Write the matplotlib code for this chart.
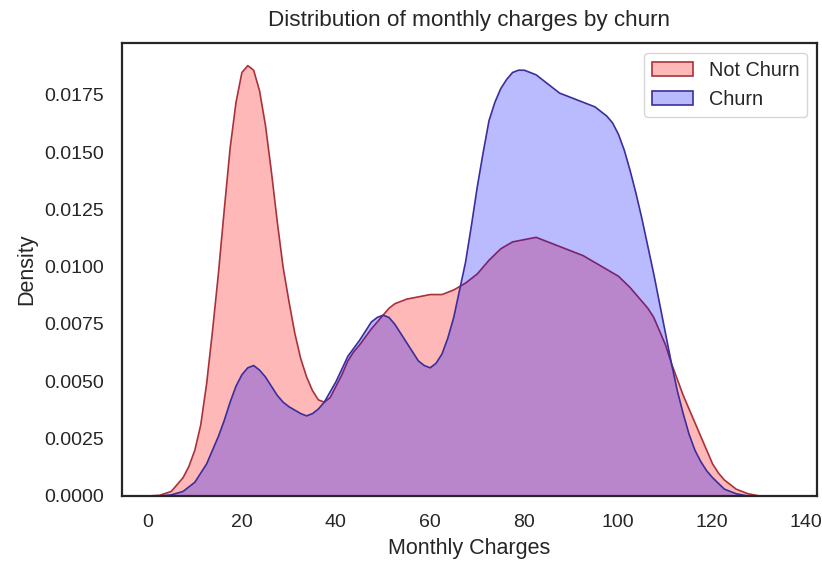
import matplotlib
matplotlib.use("Agg")
import matplotlib.pyplot as plt

# values
charges_not_churn = [0, 2.5, 5, 7.5, 8.75, 10, 11.25, 12.5, 13.75, 15, 16.25, 17.5, 18.75,
                     20, 21.25, 22.5, 23.75, 25, 26.25, 27.5, 28.75, 30, 31.25, 32.5, 33.75,
                     35, 36.25, 37.5, 38.75, 40, 41.25, 42.5, 43.75, 45, 47.5, 50, 51.25,
                     52.5, 55, 57.5, 60, 62.5, 65, 67.5, 70, 72.5, 75, 77.5, 80, 82.5, 85,
                     87.5, 90, 92.5, 95, 97.5, 100, 102.5, 105, 106.25, 107.5, 108.75, 110,
                     111.25, 112.5, 113.75, 115, 116.25, 117.5, 118.75, 120, 121.25, 122.5,
                     123.75, 125, 127.5, 130]
density_not_churn = [0, 0.00003, 0.0002, 0.0008, 0.0013, 0.0020, 0.0031, 0.0049, 0.0072,
                     0.0097, 0.0125, 0.0152, 0.0172, 0.0185, 0.0188, 0.0186, 0.0177, 0.0162,
                     0.0142, 0.0120, 0.0100, 0.0085, 0.0071, 0.0060, 0.0052, 0.0046, 0.0042,
                     0.0041, 0.0043, 0.0048, 0.0053, 0.0059, 0.0063, 0.0066, 0.0073, 0.0079,
                     0.0082, 0.0084, 0.0086, 0.0087, 0.0088, 0.0088, 0.0090, 0.0093, 0.0097,
                     0.0103, 0.0108, 0.0111, 0.0112, 0.0113, 0.0111, 0.0109, 0.0107, 0.0105,
                     0.0102, 0.0099, 0.0096, 0.0091, 0.0085, 0.0082, 0.0078, 0.0072, 0.0066,
                     0.0058, 0.0051, 0.0044, 0.0038, 0.0032, 0.0026, 0.0020, 0.0014, 0.0010,
                     0.0007, 0.0005, 0.0003, 0.0001, 0]

charges_churn = [0, 2.5, 5, 7.5, 10, 12.5, 15, 16.25, 17.5, 18.75, 20, 21.25, 22.5, 23.75,
                 25, 26.25, 27.5, 28.75, 30, 32.5, 33.75, 35, 36.25, 37.5, 40, 42.5, 45,
                 47.5, 48.75, 50, 51.25, 52.5, 53.75, 55, 56.25, 57.5, 58.75, 60, 61.25,
                 62.5, 63.75, 65, 66.25, 67.5, 68.75, 70, 71.25, 72.5, 73.75, 75, 76.25,
                 77.5, 78.75, 80, 81.25, 82.5, 85, 87.5, 90, 92.5, 95, 96.25, 97.5, 98.75,
                 100, 101.25, 102.5, 103.75, 105, 106.25, 107.5, 108.75, 110, 111.25,
                 112.5, 113.75, 115, 116.25, 117.5, 118.75, 120, 122.5, 125, 127.5, 130]
density_churn = [0, 0, 0.00005, 0.0002, 0.0006, 0.0014, 0.0026, 0.0033, 0.0041, 0.0048,
                 0.0053, 0.0056, 0.0057, 0.0055, 0.0052, 0.0048, 0.0044, 0.0041, 0.0039,
                 0.0036, 0.0035, 0.0036, 0.0038, 0.0041, 0.0050, 0.0061, 0.0068, 0.0076,
                 0.0078, 0.0079, 0.0078, 0.0075, 0.0071, 0.0067, 0.0063, 0.0059, 0.0057,
                 0.0056, 0.0058, 0.0062, 0.0069, 0.0078, 0.0090, 0.0102, 0.0118, 0.0135,
                 0.0150, 0.0164, 0.0172, 0.0178, 0.0182, 0.0185, 0.0186, 0.0186, 0.0185,
                 0.0184, 0.0180, 0.0176, 0.0174, 0.0172, 0.0170, 0.0168, 0.0166, 0.0163,
                 0.0158, 0.0151, 0.0142, 0.0132, 0.0121, 0.0109, 0.0097, 0.0084, 0.0071,
                 0.0058, 0.0046, 0.0036, 0.0027, 0.0020, 0.0015, 0.0011, 0.0008, 0.0003,
                 0.0001, 0, 0]

plt.rcParams["font.family"] = ["Liberation Sans", "DejaVu Sans"]
text_col = "#262626"

fig = plt.figure(figsize=(8.22, 5.65), dpi=100)
ax = fig.add_axes([0.148, 0.123, 0.846, 0.801])

ax.fill_between(charges_not_churn, density_not_churn, facecolor=(1, 0, 0, 0.28),
                edgecolor="#a8323c", linewidth=1.2, label="Not Churn")
ax.fill_between(charges_churn, density_churn, facecolor=(0, 0, 1, 0.27),
                edgecolor="#3a2f9c", linewidth=1.2, label="Churn")

ax.set_xlim(-5.44, 142.3)
ax.set_ylim(0, 0.01977)
ax.set_xticks(range(0, 141, 20))
ax.set_yticks([0.0, 0.0025, 0.005, 0.0075, 0.01, 0.0125, 0.015, 0.0175])
ax.set_yticklabels(["0.0000", "0.0025", "0.0050", "0.0075", "0.0100", "0.0125",
                    "0.0150", "0.0175"])
ax.tick_params(length=0, labelsize=14, labelcolor=text_col, pad=13)
for s in ax.spines.values():
    s.set_color(text_col)
    s.set_linewidth(1.6)

ax.set_xlabel("Monthly Charges", fontsize=15.5, color=text_col, labelpad=5)
ax.set_ylabel("Density", fontsize=15.5, color=text_col, labelpad=5)
ax.set_title("Distribution of monthly charges by churn", fontsize=16.2, color=text_col, pad=12)

leg = ax.legend(loc="upper right", fontsize=14.3, frameon=True, fancybox=True,
                handlelength=2.06, handleheight=0.75)
leg.get_frame().set_edgecolor("#cccccc")
for t in leg.get_texts():
    t.set_color(text_col)

fig.savefig("out.png", dpi=100)
